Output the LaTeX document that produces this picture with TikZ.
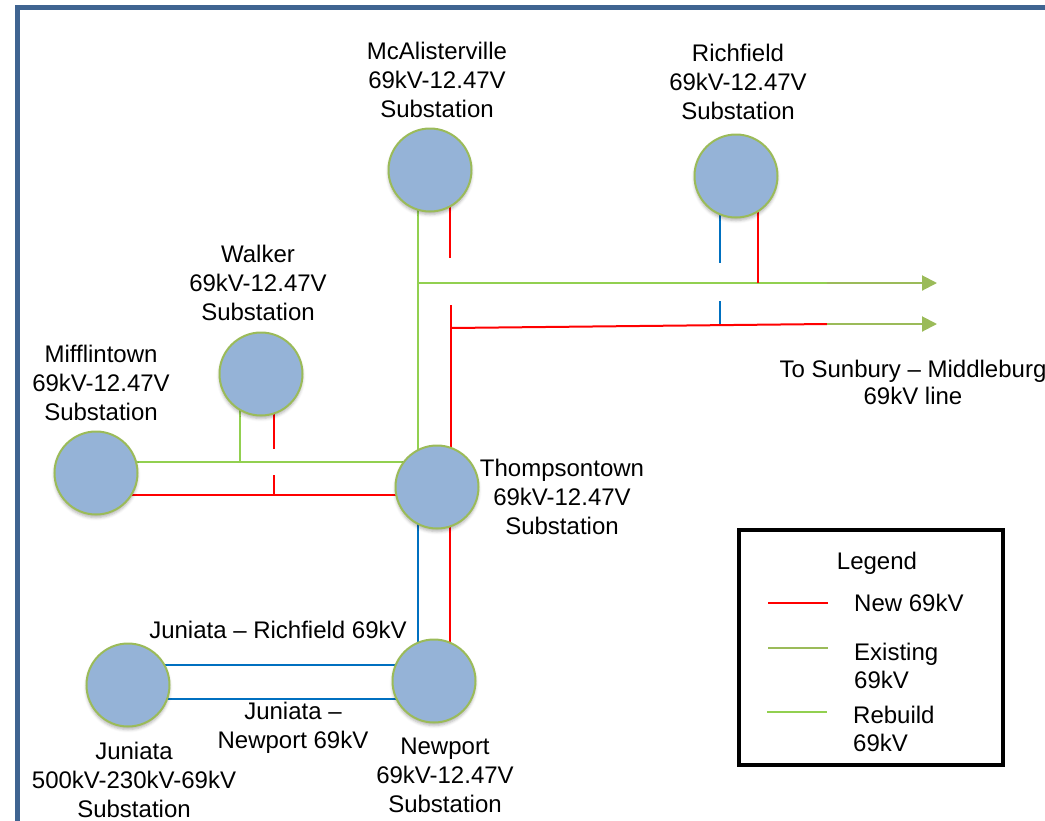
\documentclass[tikz,border=0pt]{standalone}
\usepackage{fontspec}
\setmainfont{Liberation Sans}
\usetikzlibrary{arrows.meta,shadows.blur,backgrounds}
\definecolor{subfill}{RGB}{149,179,215}
\definecolor{subedge}{RGB}{155,187,89}
\definecolor{lgreen}{RGB}{146,208,80}
\definecolor{olive}{RGB}{155,187,89}
\definecolor{nred}{RGB}{255,0,0}
\definecolor{nblue}{RGB}{0,112,192}
\definecolor{frameblue}{RGB}{63,100,145}
\begin{document}
\begin{tikzpicture}[x=1pt,y=-1pt,
  sub/.style={circle,fill=subfill,draw=subedge,line width=2pt,minimum size=83pt,inner sep=0pt,
    blur shadow={shadow xshift=0pt,shadow yshift=-3pt,shadow blur radius=3pt,shadow opacity=30}},
  lbl/.style={font=\fontsize{24}{29}\selectfont,align=center,inner sep=0pt},
  grn/.style={draw=lgreen,line width=2pt},
  olv/.style={draw=olive,line width=2pt},
  red/.style={draw=nred,line width=2pt},
  blu/.style={draw=nblue,line width=2pt},
  arr/.style={-{Triangle[length=15pt,width=15pt]}},
]
\useasboundingbox (0,0) rectangle (1045,820);
\clip (0,0) rectangle (1045,820);
\draw[frameblue,line width=5pt] (17.5,1200) -- (17.5,7) -- (1200,7);

% substations
\node[sub] (mca) at (430,170) {};
\node[sub] (ric) at (736,176) {};
\node[sub] (wal) at (261,374) {};
\node[sub] (mif) at (96,473) {};
\node[sub] (thp) at (437,487) {};
\node[sub] (new) at (434,681) {};
\node[sub] (jun) at (128,685) {};

% free ends and junctions
\coordinate (j1) at (418,283);
\coordinate (e1) at (827,283);
\coordinate (a1) at (937,283);
\coordinate (m1) at (450,258);
\coordinate (r1) at (758,283);
\coordinate (b1) at (720,263);
\coordinate (b2) at (720,301);
\coordinate (b3) at (720,326);
\coordinate (rs) at (451,305);
\coordinate (rc) at (451,328);
\coordinate (e2) at (827,324);
\coordinate (a2) at (937,324);
\coordinate (w1) at (240,462);
\coordinate (w2) at (274,449);
\coordinate (w3) at (274,475);
\coordinate (w4) at (274,495);

\begin{scope}[on background layer]
\draw[grn] ([xshift=-12pt]mca.center) -- ([xshift=-19pt]thp.center);
\draw[grn] (j1) -- (e1);
\draw[olv,arr] (e1) -- (a1);
\draw[red] ([xshift=20pt]mca.center) -- (m1);
\draw[red] ([xshift=22pt]ric.center) -- (r1);
\draw[blu] ([xshift=-16pt]ric.center) -- (b1);
\draw[blu] (b2) -- (b3);
\draw[red] ([xshift=14pt]thp.center) -- (rs);
\draw[red] (rc) -- (e2);
\draw[olv,arr] (e2) -- (a2);
\draw[grn] ([xshift=-21pt]wal.center) -- (w1);
\draw[grn] ([yshift=11pt]mif.center) -- ([yshift=25pt]thp.center);
\draw[red] ([yshift=-22pt]mif.center) -- ([yshift=-8pt]thp.center);
\draw[red] ([xshift=13pt]wal.center) -- (w2);
\draw[red] (w3) -- (w4);
\draw[blu] ([xshift=-19pt]thp.center) -- ([xshift=-16pt]new.center);
\draw[red] ([xshift=13pt]thp.center) -- ([xshift=16pt]new.center);
\draw[blu] ([yshift=20pt]jun.center) -- ([yshift=16pt]new.center);
\draw[blu] ([yshift=-14pt]jun.center) -- ([yshift=-18pt]new.center);
\end{scope}

% labels
\node[lbl] (mcaT) at (437,80) {McAlisterville\\69kV-12.47V\\Substation};
\node[lbl] (ricT) at (738,82) {Richfield\\69kV-12.47V\\Substation};
\node[lbl] (walT) at (258,283) {Walker\\69kV-12.47V\\Substation};
\node[lbl] (mifT) at (101,383) {Mifflintown\\69kV-12.47V\\Substation};
\node[lbl] (thpT) at (562,497) {Thompsontown\\69kV-12.47V\\Substation};
\node[lbl] (newT) at (445,775) {Newport\\69kV-12.47V\\Substation};
\node[lbl] (junT) at (134,780) {Juniata\\500kV-230kV-69kV\\Substation};
\node[lbl] (jrT) at (278,630) {Juniata – Richfield 69kV};
\node[lbl] (jnT) at (293,728) {Juniata –\\Newport 69kV};
\node[lbl,font=\fontsize{24}{27}\selectfont] (sunT) at (913,382) {To Sunbury – Middleburg\\69kV line};

% legend
\node[draw=black,line width=4pt,minimum width=264pt,minimum height=235pt,inner sep=0pt] (leg) at (870.5,647.5) {};
\node[lbl] (legT) at (877,563) {Legend};
\coordinate (l1a) at (768,603); \coordinate (l1b) at (828,603);
\coordinate (l2a) at (768,648); \coordinate (l2b) at (828,648);
\coordinate (l3a) at (767,712); \coordinate (l3b) at (827,712);
\draw[red] (l1a) -- (l1b);
\draw[olv] (l2a) -- (l2b);
\draw[grn] (l3a) -- (l3b);
\node[lbl,anchor=west,align=left] (lt1) at (854,603) {New 69kV};
\node[lbl,anchor=west,align=left,font=\fontsize{24}{28}\selectfont] (lt2) at (854,666) {Existing\\69kV};
\node[lbl,anchor=west,align=left,font=\fontsize{24}{28}\selectfont] (lt3) at (853,729) {Rebuild\\69kV};
\end{tikzpicture}
\end{document}
